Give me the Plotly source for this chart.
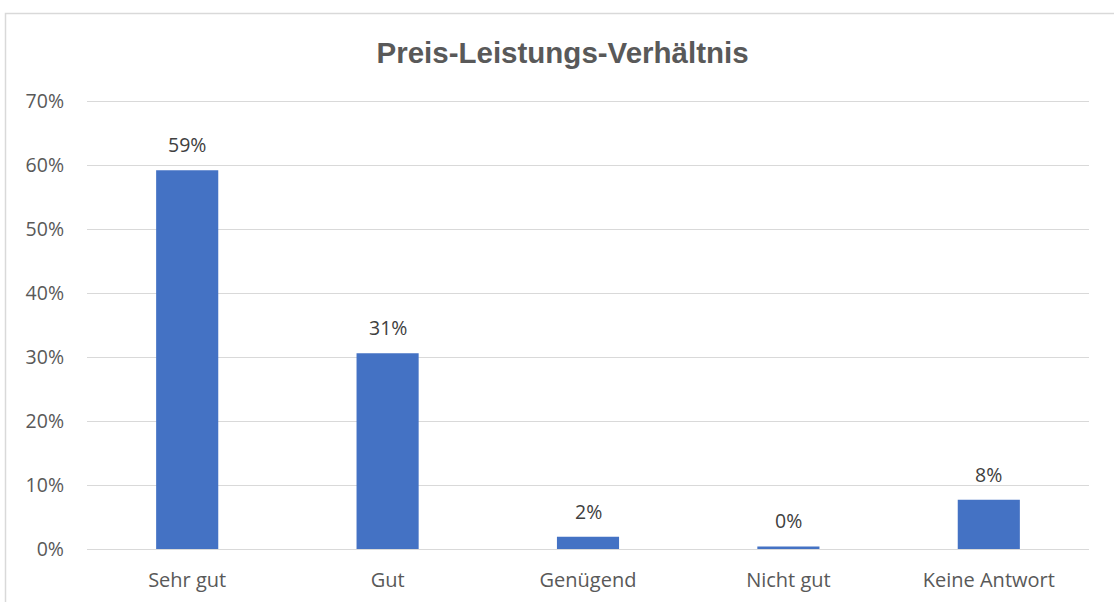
import plotly.graph_objects as go

categories = ["Sehr gut", "Gut", "Genügend", "Nicht gut", "Keine Antwort"]
values = [0.592, 0.306, 0.019, 0.004, 0.077]
labels = ["59%", "31%", "2%", "0%", "8%"]
y_ticks = [0, 0.1, 0.2, 0.3, 0.4, 0.5, 0.6, 0.7]
y_tick_labels = ["0%", "10%", "20%", "30%", "40%", "50%", "60%", "70%"]

FONT = "Open Sans, Noto Sans, Liberation Sans, sans-serif"

fig = go.Figure()
fig.add_trace(go.Bar(
    x=categories, y=values,
    marker=dict(color="#4472C4", line=dict(width=0)),
    hoverinfo="skip",
))

for c, v, t in zip(categories, values, labels):
    fig.add_annotation(x=c, y=v, text=t, showarrow=False,
                       yanchor="bottom", yshift=10,
                       font=dict(family=FONT, size=19.5, color="#404040"))

fig.update_layout(
    width=1114, height=602, autosize=False,
    margin=dict(l=87, r=25, t=98, b=53, autoexpand=False),
    paper_bgcolor="white", plot_bgcolor="white",
    bargap=0.69,
    showlegend=False,
    title=dict(text="<b>Preis-Leistungs-Verhältnis</b>", x=0.505, xanchor="center",
               y=0.913, yanchor="middle",
               font=dict(family="Liberation Sans, Arial, sans-serif", size=29.5, color="#595959")),
    xaxis=dict(showgrid=False, showline=True, linecolor="#D9D9D9", linewidth=1,
               ticks="", tickfont=dict(family=FONT, size=20, color="#595959"),
               ticklabelstandoff=13, automargin=False),
    yaxis=dict(range=[0, 0.705], tickvals=y_ticks, ticktext=y_tick_labels,
               showgrid=True, gridcolor="#D9D9D9", gridwidth=1, zeroline=False,
               showline=False, ticks="", automargin=False,
               tickfont=dict(family=FONT, size=19.5, color="#595959"),
               ticklabelstandoff=22),
    shapes=[dict(type="rect", xref="paper", yref="paper",
                 x0=(5.5 - 87) / 1002, x1=(1125 - 87) / 1002,
                 y0=(549 - 615) / 451, y1=(549 - 13.5) / 451,
                 line=dict(color="#D9D9D9", width=1.5), fillcolor="rgba(0,0,0,0)",
                 layer="below")],
)

fig.write_html("out.html", config={"displayModeBar": False},
               post_script="document.body.style.margin='0';")
